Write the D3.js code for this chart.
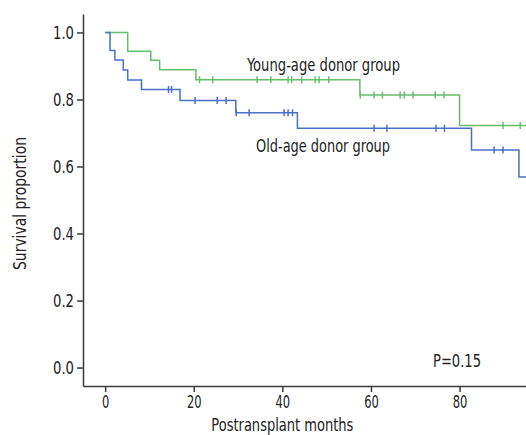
<!DOCTYPE html>
<html>
    <head>
        <meta charset="utf-8">
        <script src="https://d3js.org/d3.v7.min.js"></script>
        <style>
            body { margin: 0; background: #fff; }
            text { font-family: "Liberation Sans Narrow", "DejaVu Sans Condensed", sans-serif; fill: #222; }
        </style>
    </head>
    <body>
        <script>
            // Kaplan-Meier steps (months, survival after the drop)
            const youngTimes = [0, 5.1, 10.3, 12.3, 20.5, 57.5, 80.0];
            const youngSurv = [1.0, 0.944, 0.917, 0.889, 0.859, 0.813, 0.722];
            const youngCensor = [21.3, 24.3, 34.3, 37.4, 41.3, 42.1, 44.4, 47.4, 48.3, 50.5,
                57.6, 60.7, 62.6, 66.6, 67.5, 69.5, 74.5, 76.5, 89.8, 93.7];

            const oldTimes = [0, 1.1, 2.2, 4.1, 5.1, 8.2, 16.9, 29.5, 43.4, 82.7, 93.4];
            const oldSurv = [1.0, 0.946, 0.918, 0.888, 0.858, 0.830, 0.797, 0.760, 0.714, 0.649, 0.569];
            const oldCensor = [14.3, 15.0, 20.3, 25.3, 27.3, 29.6, 32.5, 40.4, 41.3, 42.3,
                60.7, 63.6, 74.7, 76.6, 87.8, 89.8];

            const xTicks = [0, 20, 40, 60, 80];
            const yTicks = [0.0, 0.2, 0.4, 0.6, 0.8, 1.0];
            const lastTime = 96;

            const width = 526, height = 435;
            const margin = {left: 83, top: 14, right: 0, bottom: 49};

            const svg = d3.select('body').append('svg')
                .attr('width', width).attr('height', height);

            const x = d3.scaleLinear().domain([-5, 95]).range([margin.left, width - margin.right]);
            const y = d3.scaleLinear().domain([-0.055, 1.055]).range([height - margin.bottom, margin.top]);

            // оси
            const xAxis = svg.append('g')
                .attr('transform', `translate(0,${height - margin.bottom})`)
                .call(d3.axisBottom(x).tickValues(xTicks).tickFormat(d3.format('d')).tickSize(6).tickSizeOuter(0));
            const yAxis = svg.append('g')
                .attr('transform', `translate(${margin.left},0)`)
                .call(d3.axisLeft(y).tickValues(yTicks).tickFormat(d3.format('.1f')).tickSize(6).tickSizeOuter(0));

            [xAxis, yAxis].forEach(a => {
                a.selectAll('path, line').attr('stroke', '#3a3a3a').attr('stroke-width', 1.5);
                a.selectAll('text').attr('font-size', 17).attr('fill', '#222')
                    .style('font-family', '"Liberation Sans Narrow", "DejaVu Sans Condensed", sans-serif')
                    .attr('lengthAdjust', 'spacingAndGlyphs');
            });
            // узкий шрифт оригинала: подгоняем ширину подписей
            xAxis.selectAll('text').attr('dy', '0.72em').attr('y', 10)
                .attr('textLength', d => String(d).length * 7.3);
            yAxis.selectAll('text').attr('x', -9).attr('dy', '0.35em')
                .attr('textLength', 21);

            const plot = svg.append('g');

            function stepPoints(times, surv) {
                const pts = times.map((t, i) => [t, surv[i]]);
                pts.push([lastTime, surv[surv.length - 1]]);
                return pts;
            }

            function survAt(times, surv, t) {
                let s = surv[0];
                times.forEach((tt, i) => { if (tt <= t) s = surv[i]; });
                return s;
            }

            const line = d3.line()
                .x(d => x(d[0]))
                .y(d => y(d[1]))
                .curve(d3.curveStepAfter);

            const groups = [
                {times: youngTimes, surv: youngSurv, censor: youngCensor, color: '#66bd6c'},
                {times: oldTimes, surv: oldSurv, censor: oldCensor, color: '#4a6fc6'}
            ];

            groups.forEach(g => {
                plot.append('path')
                    .datum(stepPoints(g.times, g.surv))
                    .attr('d', line)
                    .attr('fill', 'none')
                    .attr('stroke', g.color)
                    .attr('stroke-width', 1.5);

                plot.selectAll(null)
                    .data(g.censor)
                    .enter()
                    .append('line')
                    .attr('x1', d => x(d)).attr('x2', d => x(d))
                    .attr('y1', d => y(survAt(g.times, g.surv, d)) - 3.5)
                    .attr('y2', d => y(survAt(g.times, g.surv, d)) + 3.5)
                    .attr('stroke', g.color)
                    .attr('stroke-width', 1.5);
            });

            // подписи
            function label(sel, len) {
                return sel.attr('font-size', 18).attr('textLength', len).attr('lengthAdjust', 'spacingAndGlyphs');
            }
            label(svg.append('text').attr('x', 247).attr('y', 70.5), 153)
                .text('Young-age donor group');
            label(svg.append('text').attr('x', 256).attr('y', 151.5), 134)
                .text('Old-age donor group');
            label(svg.append('text').attr('x', 433).attr('y', 366.5), 48)
                .text('P=0.15');

            label(svg.append('text').attr('x', x(40)).attr('y', 431).attr('text-anchor', 'middle'), 142)
                .text('Postransplant months');
            label(svg.append('text').attr('transform', `translate(26,${203.5}) rotate(-90)`)
                .attr('text-anchor', 'middle'), 133)
                .text('Survival proportion');
        </script>
    </body>
</html>
